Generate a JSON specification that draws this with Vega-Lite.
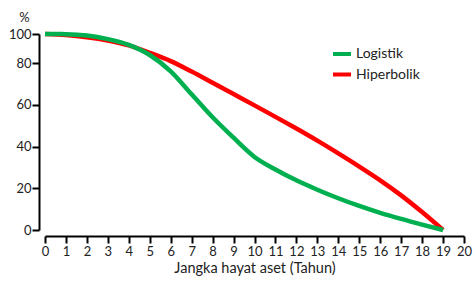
{
  "$schema": "https://vega.github.io/schema/vega-lite/v6.json",
  "autosize": "none",
  "width": 419,
  "height": 196,
  "padding": {"left": 45, "top": 34, "right": 9, "bottom": 53},
  "background": "white",
  "config": {
    "view": {"stroke": null},
    "font": "Lato",
    "axis": {"grid": false, "domainColor": "black", "tickColor": "black", "labelColor": "#222", "titleColor": "#222", "labelFont": "Lato", "titleFont": "Lato", "titleFontWeight": "normal"}
  },
  "data": {
    "values": [
      {"t": 0, "v": 100, "s": "Hiperbolik"},
      {"t": 1, "v": 99.3, "s": "Hiperbolik"},
      {"t": 2, "v": 97.8, "s": "Hiperbolik"},
      {"t": 3, "v": 95.5, "s": "Hiperbolik"},
      {"t": 4, "v": 92.1, "s": "Hiperbolik"},
      {"t": 5, "v": 87, "s": "Hiperbolik"},
      {"t": 6, "v": 81.3, "s": "Hiperbolik"},
      {"t": 7, "v": 75.9, "s": "Hiperbolik"},
      {"t": 8, "v": 70.5, "s": "Hiperbolik"},
      {"t": 9, "v": 65.1, "s": "Hiperbolik"},
      {"t": 10, "v": 59.7, "s": "Hiperbolik"},
      {"t": 11, "v": 54.2, "s": "Hiperbolik"},
      {"t": 12, "v": 48.6, "s": "Hiperbolik"},
      {"t": 13, "v": 42.8, "s": "Hiperbolik"},
      {"t": 14, "v": 36.7, "s": "Hiperbolik"},
      {"t": 15, "v": 30.4, "s": "Hiperbolik"},
      {"t": 16, "v": 23.8, "s": "Hiperbolik"},
      {"t": 17, "v": 16.6, "s": "Hiperbolik"},
      {"t": 18, "v": 8.6, "s": "Hiperbolik"},
      {"t": 19, "v": 0, "s": "Hiperbolik"},
      {"t": 0, "v": 100, "s": "Logistik"},
      {"t": 1, "v": 99.9, "s": "Logistik"},
      {"t": 2, "v": 99, "s": "Logistik"},
      {"t": 3, "v": 96.5, "s": "Logistik"},
      {"t": 4, "v": 92.5, "s": "Logistik"},
      {"t": 5, "v": 85.5, "s": "Logistik"},
      {"t": 6, "v": 76, "s": "Logistik"},
      {"t": 7, "v": 65, "s": "Logistik"},
      {"t": 8, "v": 54, "s": "Logistik"},
      {"t": 9, "v": 44.2, "s": "Logistik"},
      {"t": 10, "v": 35, "s": "Logistik"},
      {"t": 11, "v": 29, "s": "Logistik"},
      {"t": 12, "v": 23.8, "s": "Logistik"},
      {"t": 13, "v": 19.3, "s": "Logistik"},
      {"t": 14, "v": 15.2, "s": "Logistik"},
      {"t": 15, "v": 11.5, "s": "Logistik"},
      {"t": 16, "v": 8.2, "s": "Logistik"},
      {"t": 17, "v": 5.3, "s": "Logistik"},
      {"t": 18, "v": 2.6, "s": "Logistik"},
      {"t": 19, "v": 0, "s": "Logistik"}
    ]
  },
  "mark": {"type": "line", "interpolate": "monotone", "strokeWidth": 4.5, "strokeCap": "butt"},
  "encoding": {
    "x": {
      "field": "t", "type": "quantitative",
      "scale": {"domain": [0, 20], "nice": false, "zero": false},
      "axis": {"values": [0,1,2,3,4,5,6,7,8,9,10,11,12,13,14,15,16,17,18,19,20], "labelOverlap": false, "labelBound": false, "labelFlush": false, "offset": 6, "tickSize": 7, "tickWidth": 2, "domainWidth": 2, "labelFontSize": 13, "labelPadding": 2, "title": "Jangka hayat aset (Tahun)", "titleFontSize": 14.5, "titlePadding": 3}
    },
    "y": {
      "field": "v", "type": "quantitative",
      "scale": {"domain": [0, 80, 100], "range": [196, 29, 0], "nice": false, "zero": false},
      "axis": {"values": [0, 20, 40, 60, 80, 100], "labelOverlap": false, "labelFlush": false, "offset": 6, "tickSize": 7, "tickWidth": 2, "domainWidth": 2, "labelFontSize": 13, "labelPadding": 1, "title": "%", "titleFontSize": 13, "titleAngle": 0, "titleX": -15, "titleY": -17, "titleAlign": "center", "titleBaseline": "middle"}
    },
    "color": {
      "field": "s", "type": "nominal",
      "scale": {"domain": ["Logistik", "Hiperbolik"], "range": ["#00B050", "#FF0000"]},
      "legend": {"title": null, "orient": "none", "legendX": 286, "legendY": 9, "symbolType": "stroke", "symbolSize": 324, "symbolStrokeWidth": 4, "labelFontSize": 14, "labelFont": "Lato", "labelColor": "#222", "labelOffset": 3, "rowPadding": 1.5}
    }
  }
}
